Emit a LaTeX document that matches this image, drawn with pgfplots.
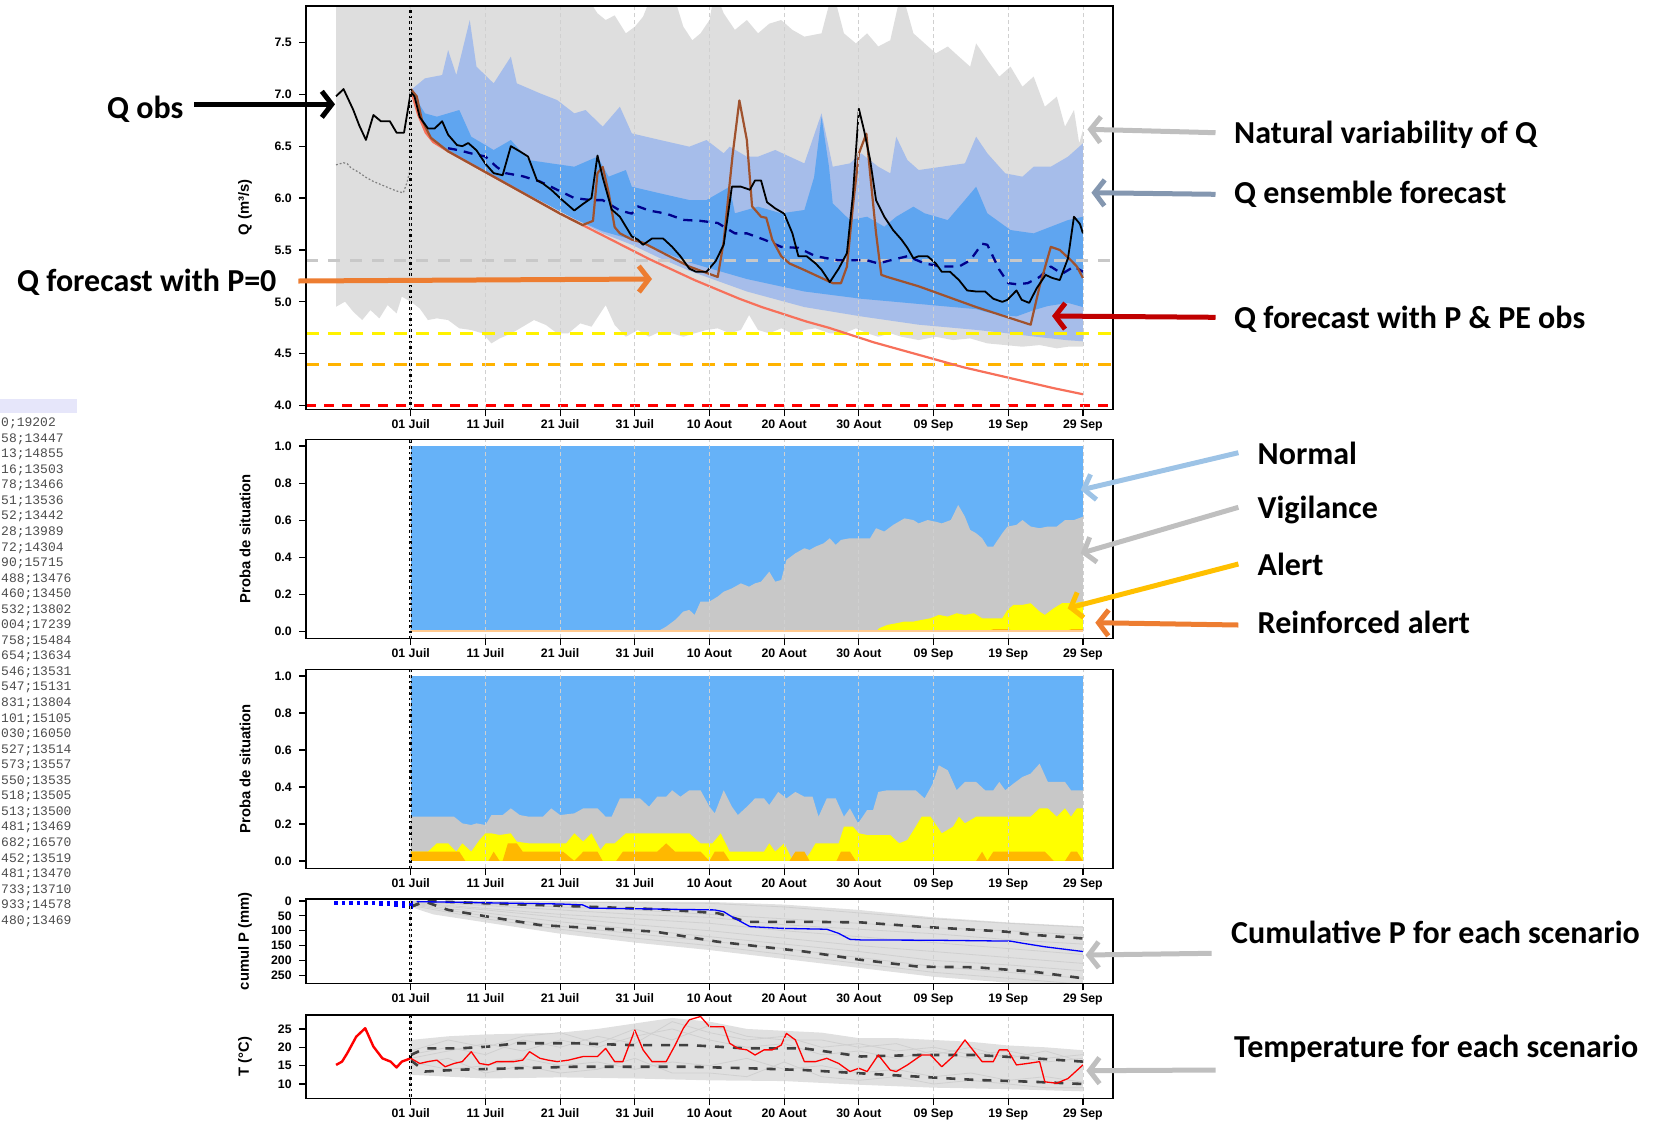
\documentclass[border=0pt]{standalone}
\usepackage{pgfplots}
\pgfplotsset{compat=1.18}
\usepackage{fontspec}
\setmainfont{Liberation Sans}
\newfontfamily\annotfam{Carlito}
\newfontfamily\monofam{Liberation Mono}
\usetikzlibrary{arrows.meta}

\definecolor{natgray}{HTML}{DEDEDE}
\definecolor{lblue}{HTML}{A6BDEA}
\definecolor{mblue}{HTML}{5FA5F0}
\definecolor{pblue}{HTML}{66B2F8}
\definecolor{vgray}{HTML}{C8C8C8}
\definecolor{ayellow}{HTML}{FFFF00}
\definecolor{raorange}{HTML}{FFB800}
\definecolor{peach}{HTML}{FFC98F}
\definecolor{brownline}{HTML}{A0522D}
\definecolor{salmon}{HTML}{F7705A}
\definecolor{qnavy}{HTML}{00008B}
\definecolor{gridgray}{HTML}{D0D0D0}
\definecolor{hlgray}{HTML}{C8C8C8}
\definecolor{hlorange}{HTML}{FFB300}
\definecolor{arrgray}{HTML}{BFBFBF}
\definecolor{arrblue}{HTML}{8497B0}
\definecolor{arrorange}{HTML}{ED7D31}
\definecolor{arrred}{HTML}{C00000}
\definecolor{arrlblue}{HTML}{9DC3E6}
\definecolor{arrgold}{HTML}{FFC000}
\definecolor{lavender}{HTML}{E6E6FA}
\definecolor{monogray}{HTML}{4D4D4D}
\definecolor{ensgray}{HTML}{E0E0E0}
\definecolor{enslines}{HTML}{D0D0D0}
\definecolor{qdash}{HTML}{404040}

\newcommand\tickfont{\bfseries\fontsize{12.3}{14}\selectfont}
\newcommand\labfont{\bfseries\fontsize{14.8}{17}\selectfont}
\newcommand\annotfont{\annotfam\bfseries\fontsize{32}{38}\selectfont}
\newcommand\monofont{\monofam\fontsize{13}{15.5}\selectfont}

\pgfplotsset{
  panel/.style={
    scale only axis, width=806.6pt, anchor=north west,
    xmin=-14, xmax=94,
    xtick={0,10,20,30,40,50,60,70,80,90},
    xticklabels={01 Juil,11 Juil,21 Juil,31 Juil,10 Aout,20 Aout,30 Aout,09 Sep,19 Sep,29 Sep},
    tick pos=left, tick align=outside, major tick length=7pt,
    tick style={black, line width=1.2pt},
    axis line style={black, line width=1.6pt},
    ticklabel style={font=\tickfont, text=black},
    yticklabel style={xshift=-4pt},
    xmajorgrids, grid style={dash pattern=on 4pt off 3pt, color=gridgray, line width=0.8pt},
    axis on top,
    ylabel style={font=\labfont, at={(axis description cs:-0.0757,0.5)}, anchor=center},
    no markers,
    every axis plot/.append style={line join=round},
  },
  dayzero/.style={black, line width=2.6pt, dash pattern=on 2.6pt off 3pt},
}

\begin{document}
\begin{tikzpicture}
\path[use as bounding box] (0pt,0pt) rectangle (1668pt,-1120pt);

% ---------------- left text column ----------------
\fill[lavender] (0pt,-399pt) rectangle (76.6pt,-412.7pt);
\foreach \t [count=\i] in {0;19202,58;13447,13;14855,16;13503,78;13466,51;13536,52;13442,28;13989,72;14304,90;15715,488;13476,460;13450,532;13802,004;17239,758;15484,654;13634,546;13531,547;15131,831;13804,101;15105,030;16050,527;13514,573;13557,550;13535,518;13505,513;13500,481;13469,682;16570,452;13519,481;13470,733;13710,933;14578,480;13469}
  {\node[anchor=base west, inner sep=0pt, font=\monofont, text=monogray] at (1pt,{-426.6pt-15.55pt*(\i-1)}) {\t};}

% ---------------- panel 1 : Q ----------------
\begin{axis}[panel, at={(306.2pt,-5.7pt)}, height=403.6pt,
  ymin=3.965, ymax=7.853,
  ytick={4,4.5,5,5.5,6,6.5,7,7.5},
  yticklabels={4.0,4.5,5.0,5.5,6.0,6.5,7.0,7.5},
  ylabel={Q (m³/s)}]
% natural variability
\addplot[fill=natgray, draw=none] coordinates {
 (-10,8) (23,8) (25,7.78) (26.1,7.715) (27.3,7.76) (28.8,7.587) (30,7.65) (31.1,7.747) (32.5,8) (35,8) (36.5,7.65) (37.7,7.52) (38.8,7.587) (40,7.715) (40.7,8) (41.9,7.78) (43.4,7.62) (45,7.715) (46.5,7.587) (48,7.68) (49.6,7.715) (51.1,7.62) (52.7,7.555) (55,7.587) (56.5,8) (58,7.587) (59.6,7.49) (61.1,7.587) (62.6,7.46) (64.2,7.52) (65.7,8) (67.3,7.587) (68.8,7.49) (70.3,7.394) (71.9,7.46) (73.4,7.362) (74.9,7.266) (75.7,7.49) (77.2,7.33) (78.8,7.17) (80.3,7.266) (81.9,7.073) (83.4,7.17) (84.9,6.88) (86.5,6.977) (87.6,6.688) (88.8,6.848) (89.5,6.527) (90,6.655)
 (90,4.568) (88,4.568) (86.5,4.552) (84.2,4.584) (81.9,4.568) (79.6,4.584) (77.2,4.6) (74.9,4.648) (72.6,4.632) (70.3,4.664) (68,4.632) (65.7,4.664) (64.2,4.697) (62.6,4.664) (61.1,4.697) (59.6,4.745) (58,4.697) (56.1,4.697) (54.2,4.745) (52.7,4.729) (51.5,4.68) (49.6,4.745) (48,4.697) (46.5,4.729) (45.3,4.873) (44.2,4.729) (42.7,4.697) (41.1,4.745) (39.6,4.729) (38,4.697) (36.5,4.664) (35,4.697) (33.4,4.713) (31.9,4.664) (30.4,4.729) (28.8,4.664) (27.3,4.777) (26.1,4.969) (24.2,4.761) (22.7,4.793) (21.1,4.697) (19.6,4.697) (18.1,4.777) (16.5,4.825) (15,4.761) (13.5,4.697) (11.9,4.648) (10.8,4.6) (9.6,4.697) (8.1,4.729) (6.5,4.745) (5,4.825) (3.5,4.841) (2.3,4.825) (1.2,4.937) (0,5.002) (-1.2,5.05) (-1.9,4.889) (-3.1,4.969) (-4.2,4.841) (-5.4,4.921) (-6.5,4.825) (-7.7,4.905) (-8.8,5.002) (-10,4.953)
} -- cycle;
% ensemble outer band
\addplot[fill=lblue, draw=none] coordinates {
 (0,7.04) (1.9,7.153) (4.2,7.185) (5,7.426) (6.1,7.185) (7.9,7.715) (8.8,7.266) (11.1,7.105) (13.4,7.362) (14.2,7.105) (17.3,7.009) (19.6,6.944) (21.9,6.816) (23.4,6.848) (25.7,6.688) (28,6.88) (29.6,6.623) (33.4,6.559) (37.3,6.495) (39.6,6.559) (41.9,6.431) (42.7,6.495) (45,6.399) (46.5,6.399) (48.8,6.463) (52.7,6.334) (55,6.816) (56.5,6.302) (58.8,6.334) (60.3,6.431) (62.6,6.302) (64.2,6.238) (65,6.591) (66.5,6.366) (68,6.27) (71.1,6.302) (74.2,6.334) (75.7,6.591) (77.2,6.431) (79.6,6.238) (81.9,6.206) (83.4,6.302) (85.7,6.302) (88,6.399) (90,6.527)
 (90,4.62) (88,4.63) (84.2,4.66) (79.6,4.70) (75.7,4.73) (68,4.78) (60.3,4.86) (52.7,4.95) (45,5.10) (37.3,5.30) (33.4,5.42) (29.6,5.55) (25.7,5.66) (21.9,5.80) (18,5.95) (14.2,6.09) (10.4,6.23) (6.5,6.39) (2.7,6.56) (1,6.80) (0,7.04)
} -- cycle;
% ensemble inner band
\addplot[fill=mblue, draw=none] coordinates {
 (0,7.04) (1.9,6.816) (3.5,6.784) (6.5,6.848) (8.1,6.591) (11.1,6.463) (13.4,6.559) (15.8,6.366) (18.8,6.334) (21.9,6.302) (25,6.399) (26.5,6.206) (28.8,6.27) (29.6,6.109) (33.4,6.045) (37.3,5.981) (39.6,5.981) (42.7,6.109) (43.4,5.853) (46.5,5.917) (49.6,5.853) (52.7,5.885) (54,6.2) (55,6.784) (56,6.3) (56.5,5.949) (58.8,5.788) (61.1,5.82) (63.4,5.724) (65,5.82) (67.3,5.917) (68.8,5.853) (71.9,5.788) (74.2,5.981) (75.7,6.109) (77.2,5.853) (80.3,5.692) (83.4,5.66) (85.7,5.724) (88,5.788) (90,5.82)
 (90,4.95) (88,4.99) (85.3,4.96) (83.4,4.92) (81.1,4.86) (79.6,4.87) (77.2,4.90) (75.7,4.93) (68,4.98) (60.3,5.03) (52.7,5.10) (45,5.22) (37.3,5.38) (29.6,5.60) (25.7,5.68) (21.9,5.80) (18,5.95) (14.2,6.09) (10.4,6.23) (6.5,6.39) (2.7,6.56) (1,6.80) (0,7.04)
} -- cycle;
% thresholds
\addplot[hlgray, line width=2.8pt, dash pattern=on 12pt off 10pt] coordinates {(-14,5.4) (94,5.4)};
\addplot[yellow, line width=3pt, dash pattern=on 13pt off 9pt] coordinates {(-14,4.7) (94,4.7)};
\addplot[hlorange, line width=3pt, dash pattern=on 13pt off 9pt] coordinates {(-14,4.4) (94,4.4)};
\addplot[red, line width=3.2pt, dash pattern=on 10pt off 8pt] coordinates {(-14,4.005) (94,4.005)};
% simulated before forecast
\addplot[gray, line width=1.2pt, dash pattern=on 1.8pt off 2pt] coordinates {(-10,6.32) (-9,6.34) (-8.5,6.33) (-8,6.29) (-7,6.25) (-6,6.2) (-5,6.16) (-4,6.13) (-3,6.1) (-2,6.07) (-1,6.05) (-0.5,6.15) (0,6.3)};
% Q forecast P=0
\addplot[salmon, line width=2.2pt] coordinates {(0,7.05) (0.5,6.92) (1,6.8) (2,6.63) (3,6.54) (5,6.45) (8,6.33) (11,6.21) (14,6.09) (17,5.97) (20,5.85) (23,5.74) (26,5.63) (29,5.52) (32,5.41) (35,5.31) (38,5.21) (41,5.12) (44,5.03) (47,4.95) (50,4.88) (53,4.81) (56,4.75) (59,4.68) (62,4.61) (65,4.55) (68,4.49) (71,4.43) (74,4.37) (77,4.32) (80,4.27) (83,4.22) (86,4.17) (90,4.11)};
% ensemble median
\addplot[qnavy, line width=2.3pt, dash pattern=on 9pt off 7pt] coordinates {(5,6.48) (6.5,6.46) (8.1,6.43) (10,6.40) (11.5,6.30) (12.7,6.24) (15,6.21) (17.3,6.16) (19.6,6.08) (21.9,6.0) (24.2,5.98) (25.7,5.98) (28,5.88) (29.6,5.85) (30.4,5.92) (31.9,5.88) (34.2,5.85) (36.5,5.79) (38.8,5.78) (41.1,5.76) (42.7,5.69) (43.4,5.66) (45,5.66) (47.3,5.60) (49.6,5.53) (51.9,5.52) (54.2,5.44) (57.3,5.40) (59.6,5.40) (61.1,5.40) (62.6,5.37) (64.2,5.40) (66.5,5.44) (68.8,5.37) (71.1,5.34) (73.4,5.34) (74.9,5.40) (76.5,5.56) (77.2,5.55) (78.8,5.31) (80,5.18) (81.1,5.17) (82.6,5.18) (84.2,5.24) (85.7,5.34) (87.2,5.27) (88.8,5.34) (90,5.29)};
% Q forecast with P & PE obs
\addplot[brownline, line width=2.2pt] coordinates {(0,7.05) (0.8,6.98) (1.5,6.75) (2.7,6.58) (5,6.45) (8,6.33) (11,6.21) (14,6.09) (17,5.97) (20,5.85) (23,5.74) (24.4,5.78) (25,6.24) (25.7,6.30) (26.5,6.05) (27.3,5.72) (28,5.66) (29.6,5.60) (31.1,5.57) (37.3,5.34) (41.1,5.24) (41.9,5.58) (43.1,6.42) (44,6.94) (45,6.56) (45.7,5.92) (46.9,5.82) (47.6,5.81) (48.4,5.60) (49.6,5.44) (50.7,5.37) (52.6,5.31) (56.5,5.18) (57.6,5.18) (58.4,5.34) (59.2,5.92) (60,6.43) (61,6.62) (61.5,6.24) (62.3,5.66) (63,5.26) (63.8,5.24) (68,5.15) (75.7,4.95) (83,4.78) (84.2,5.15) (85.7,5.53) (86.9,5.50) (88.4,5.40) (89.2,5.34) (90,5.23)};
% Q obs
\addplot[black, line width=1.8pt] coordinates {(-10,6.98) (-9,7.05) (-7.7,6.85) (-6.9,6.70) (-6,6.56) (-5,6.80) (-4,6.74) (-2.8,6.74) (-1.9,6.63) (-0.9,6.63) (0,7.02) (0.5,6.98) (1.2,6.78) (2.3,6.67) (3.2,6.67) (4.2,6.74) (5,6.61) (6.2,6.51) (6.9,6.50) (7.7,6.53) (8.8,6.46) (10,6.33) (11.1,6.24) (12.3,6.22) (13.4,6.50) (14.6,6.45) (15.7,6.40) (16.9,6.17) (17.7,6.14) (18.8,6.08) (20.3,5.98) (21.9,5.88) (23,5.94) (24.2,6.0) (25,6.41) (25.7,6.20) (26.9,5.89) (28,5.82) (29.6,5.63) (30.4,5.60) (31.1,5.55) (32.3,5.61) (33.8,5.61) (35,5.53) (36.1,5.44) (37.3,5.32) (38.2,5.29) (39.6,5.29) (40.8,5.39) (41.9,5.55) (43,6.11) (44.2,6.11) (45.4,6.08) (46.1,6.17) (46.9,6.17) (47.7,5.96) (48.8,5.90) (50,5.85) (51.1,5.66) (51.9,5.44) (53,5.44) (54.2,5.37) (55,5.31) (56.1,5.19) (57.3,5.32) (58.4,5.47) (59.2,6.03) (60,6.86) (60.7,6.65) (61.5,6.37) (62.3,5.98) (63.4,5.82) (64.6,5.69) (65.7,5.60) (66.5,5.52) (67.3,5.42) (68,5.44) (69.2,5.44) (70.3,5.37) (71.1,5.29) (72.2,5.29) (73.4,5.21) (74.5,5.11) (75.7,5.10) (76.9,5.10) (78,5.03) (79.2,5.00) (79.9,5.02) (81.1,5.11) (81.8,5.02) (82.8,4.99) (83.8,5.13) (85,5.26) (85.9,5.23) (86.9,5.21) (88,5.42) (88.8,5.82) (89.6,5.75) (90,5.66)};
\addplot[dayzero] coordinates {(0,3.9) (0,7.9)};
\end{axis}

% ---------------- panel 2 : proba (P & PE obs) ----------------
\begin{axis}[panel, at={(306.2pt,-439.3pt)}, height=199pt,
  ymin=-0.036, ymax=1.036,
  ytick={0,0.2,0.4,0.6,0.8,1}, yticklabels={0.0,0.2,0.4,0.6,0.8,1.0},
  ylabel={Proba de situation}]
\addplot[fill=pblue, draw=none] coordinates {(0,0) (0,1) (90,1) (90,0)} -- cycle;
\addplot[fill=vgray, draw=none] coordinates {(0,0) (33,0) (34.2,0.027) (35.4,0.063) (36.5,0.108) (37.3,0.117) (38,0.09) (38.8,0.162) (40,0.162) (41.1,0.189) (41.9,0.215) (43,0.233) (44.2,0.26) (45.3,0.242) (46.1,0.26) (46.9,0.269) (48,0.323) (48.8,0.269) (49.6,0.278) (50.3,0.386) (51.5,0.422) (52.7,0.449) (53.4,0.44) (54.2,0.458) (55.3,0.476) (56.1,0.503) (56.9,0.467) (57.6,0.494) (58.8,0.503) (60.3,0.503) (61.5,0.503) (62.3,0.557) (63.4,0.539) (64.6,0.575) (66.1,0.61) (67.3,0.601) (68,0.583) (69.2,0.601) (70.3,0.592) (71.1,0.583) (72.3,0.601) (73.3,0.682) (74.2,0.619) (74.9,0.548) (75.7,0.53) (76.5,0.503) (77.2,0.458) (78,0.458) (79.2,0.53) (79.9,0.566) (81.1,0.575) (81.9,0.601) (83,0.566) (84.2,0.557) (85.3,0.566) (86.5,0.566) (87.6,0.601) (88.8,0.601) (90,0.619) (90,0)} -- cycle;
\addplot[fill=ayellow, draw=none] coordinates {(62.3,0) (62.7,0.018) (63.8,0.036) (65,0.045) (66.1,0.054) (67.3,0.054) (68.4,0.063) (69.6,0.072) (70.7,0.09) (71.9,0.081) (73.1,0.099) (74.2,0.09) (75.4,0.099) (76.5,0.072) (78,0.072) (79.2,0.072) (79.9,0.117) (80.7,0.144) (81.9,0.144) (83,0.153) (84.2,0.108) (84.9,0.09) (86.1,0.126) (87.2,0.153) (88.8,0.153) (90,0.162) (90,0)} -- cycle;
\addplot[fill=raorange, draw=none] coordinates {(77,0) (78,0.013) (80,0.013) (81,0)} -- cycle;
\addplot[fill=raorange, draw=none] coordinates {(87.5,0) (88.5,0.014) (90,0.014) (90,0)} -- cycle;
\addplot[peach, line width=1.5pt] coordinates {(0,0.003) (90,0.003)};
\addplot[dayzero] coordinates {(0,-0.1) (0,1.1)};
\end{axis}

% ---------------- panel 3 : proba (P=0 scenarios) ----------------
\begin{axis}[panel, at={(306.2pt,-669.3pt)}, height=199pt,
  ymin=-0.04, ymax=1.036,
  ytick={0,0.2,0.4,0.6,0.8,1}, yticklabels={0.0,0.2,0.4,0.6,0.8,1.0},
  ylabel={Proba de situation}]
\addplot[fill=pblue, draw=none] coordinates {(0,0) (0,1) (90,1) (90,0)} -- cycle;
\addplot[fill=vgray, draw=none] coordinates {(0,0) (0,0.239) (5.8,0.239) (6.9,0.203) (8.1,0.194) (8.8,0.203) (10,0.194) (10.8,0.248) (12.3,0.248) (13.4,0.284) (14.6,0.248) (15.8,0.239) (17.7,0.239) (18.8,0.284) (20,0.248) (21.9,0.257) (23.1,0.284) (25,0.284) (26.1,0.239) (26.9,0.239) (28,0.338) (29.6,0.338) (30.7,0.338) (31.9,0.293) (33,0.347) (34.2,0.347) (35,0.382) (36.1,0.347) (37.3,0.382) (38.8,0.382) (40,0.293) (40.7,0.257) (41.9,0.382) (43,0.293) (43.8,0.248) (45,0.293) (46.1,0.338) (47.3,0.338) (48,0.302) (49.2,0.373) (50.3,0.338) (51.5,0.373) (52.7,0.347) (53.8,0.347) (54.6,0.239) (55.7,0.338) (56.9,0.338) (58,0.239) (58.8,0.284) (59.9,0.203) (61.1,0.275) (61.9,0.275) (62.6,0.373) (63.8,0.382) (66.1,0.382) (67.6,0.382) (68.8,0.338) (69.9,0.418) (70.7,0.517) (71.9,0.49) (73.1,0.382) (74.2,0.427) (75.7,0.427) (76.9,0.382) (78,0.382) (78.8,0.427) (79.6,0.382) (80.7,0.418) (81.9,0.454) (83,0.472) (84.2,0.526) (85.3,0.427) (86.5,0.427) (87.6,0.427) (88.4,0.382) (89.2,0.382) (90,0.382) (90,0)} -- cycle;
\addplot[fill=ayellow, draw=none] coordinates {(0,0) (0,0.05) (2.3,0.05) (3.5,0.095) (5,0.095) (6.1,0.05) (6.9,0.095) (8.1,0.05) (9.2,0.113) (10,0.149) (10.8,0.149) (11.9,0.14) (13.4,0.149) (14.2,0.104) (15.8,0.095) (19.6,0.095) (20.8,0.095) (21.9,0.149) (23.1,0.104) (24.2,0.149) (25.4,0.059) (26.1,0.095) (27.3,0.095) (28.8,0.149) (37.3,0.149) (38.8,0.095) (40.4,0.095) (41.5,0.149) (42.7,0.05) (47.3,0.05) (48,0.095) (48.8,0.05) (50,0.095) (51.1,0.005) (52.7,0.005) (53.4,0.04) (54.2,0.095) (57.3,0.095) (58,0.185) (59.2,0.185) (60,0.149) (61.1,0.14) (64.2,0.14) (65.4,0.095) (66.5,0.113) (67.6,0.185) (68.4,0.239) (69.6,0.239) (71.1,0.149) (72.6,0.185) (73.4,0.239) (74.2,0.203) (75.7,0.239) (83,0.239) (84.2,0.284) (85.3,0.284) (86.5,0.239) (87.6,0.284) (88.4,0.239) (89.2,0.284) (90,0.284) (90,0)} -- cycle;
\addplot[fill=raorange, draw=none] coordinates {(0,0) (0,0.05) (6.5,0.05) (7.3,0) (10.4,0) (11.1,0.05) (11.9,0) (12.3,0) (13,0.095) (14.2,0.095) (15,0.05) (20.4,0.05) (21.9,0) (23.1,0.05) (25,0.05) (25.7,0) (27.5,0) (28.4,0.05) (33,0.05) (34.2,0.095) (35.4,0.05) (38.8,0.05) (40,0) (40.7,0.05) (41.9,0.05) (42.7,0) (50.7,0) (51.5,0.05) (52.7,0.05) (53.4,0) (57,0) (57.6,0.05) (58.8,0.05) (59.6,0) (75.7,0) (76.5,0.05) (77.2,0) (78,0.05) (84.9,0.05) (86.1,0) (87.6,0) (88.4,0.05) (89.2,0.05) (90,0)} -- cycle;
\addplot[dayzero] coordinates {(0,-0.1) (0,1.1)};
\end{axis}

% ---------------- panel 4 : cumulative P ----------------
\begin{axis}[panel, at={(306.2pt,-899pt)}, height=84.3pt,
  y dir=reverse, ymin=-6.7, ymax=277,
  ytick={0,50,100,150,200,250}, yticklabels={0,50,100,150,200,250},
  ylabel={cumul P (mm)}]
\addplot[fill=ensgray, draw=none] coordinates {(0,0) (40,3) (50,12) (60,30) (70,55) (80,72) (90,85) (90,290) (80,275) (70,255) (60,225) (50,195) (40,165) (30,140) (20,110) (10,72) (3,45) (0,20)} -- cycle;
\addplot[enslines, line width=0.8pt] coordinates {(0,0) (10,2) (20,4) (30,6) (40,8) (50,20) (60,40) (70,60) (80,75) (90,88)};
\addplot[enslines, line width=0.8pt] coordinates {(0,5) (10,25) (20,45) (30,60) (40,75) (50,100) (60,120) (70,140) (80,160) (90,180)};
\addplot[enslines, line width=0.8pt] coordinates {(0,10) (10,40) (20,70) (30,95) (40,120) (50,145) (60,170) (70,200) (80,215) (90,235)};
\addplot[enslines, line width=0.8pt] coordinates {(0,15) (10,60) (20,95) (30,125) (40,150) (50,180) (60,210) (70,240) (80,260) (90,280)};
\addplot[enslines, line width=0.8pt] coordinates {(0,3) (10,15) (20,30) (30,45) (40,55) (50,80) (60,95) (70,110) (80,130) (90,145)};
\addplot[enslines, line width=0.8pt] coordinates {(0,8) (10,30) (20,55) (30,80) (40,100) (50,125) (60,150) (70,170) (80,190) (90,210)};
\addplot[enslines, line width=0.8pt] coordinates {(0,2) (10,10) (20,20) (30,30) (40,45) (50,60) (60,75) (70,90) (80,100) (90,115)};
\addplot[enslines, line width=0.8pt] coordinates {(0,12) (10,50) (20,85) (30,110) (40,135) (50,160) (60,190) (70,220) (80,240) (90,260)};
\addplot[qdash, line width=2.6pt, dash pattern=on 9pt off 9pt] coordinates {(0,20) (1.9,0) (10.4,8) (23.5,19) (33.5,28) (41.1,41) (45,70) (52.7,70) (60.3,72) (68,86) (79.6,103) (83.4,114) (90,126)};
\addplot[qdash, line width=2.6pt, dash pattern=on 9pt off 9pt] coordinates {(0,19) (1.9,2) (5,30) (10.4,53) (17.3,81) (23.5,90) (32.7,103) (41.1,137) (48.8,159) (52.7,170) (60.3,198) (68,221) (75.7,223) (83.4,238) (90,260)};
\addplot[blue, line width=1.3pt] coordinates {(0.8,2) (10,6) (20,10) (23,13) (24,24) (30,26) (35,28) (40.7,30) (41.9,36) (43,53) (44.6,75) (45.4,86) (49.6,92) (55.7,95) (57.3,109) (58.8,129) (60.3,131) (70,132) (80.3,135) (81.9,142) (84.9,154) (90,170)};
\addplot[ycomb, blue, line width=3.5pt] coordinates {(-10,13.5) (-9,13.5) (-8,13.5) (-7,13.5) (-6,13.5) (-5,14.6) (-4,15.7) (-3,17.9) (-2,20.2) (-1,22.4) (0,28)};
\addplot[dayzero] coordinates {(0,-20) (0,300)};
\end{axis}

% ---------------- panel 5 : temperature ----------------
\begin{axis}[panel, at={(306.2pt,-1015pt)}, height=83.3pt,
  ymin=6.1, ymax=28.8,
  ytick={10,15,20,25}, yticklabels={10,15,20,25},
  ylabel={T (°C)}]
\addplot[fill=ensgray, draw=none] coordinates {(0,22) (5,23) (10,23.5) (20,24) (25,25) (30,26.5) (35,28) (40,27) (45,25) (50,24.5) (55,24) (60,22.5) (65,22.5) (70,22) (75,21.5) (80,20.5) (85,20) (90,19.2) (90,8) (80,8.6) (70,9) (60,9.8) (50,10.8) (40,11) (30,11.5) (20,11.8) (10,11.5) (0,12.5)} -- cycle;
\addplot[enslines, line width=0.8pt] coordinates {(0,17) (5,19) (10,21) (15,19) (20,22) (25,20) (30,23) (35,25) (40,22) (45,20) (50,21) (55,18) (60,19) (65,17) (70,19) (75,17) (80,18) (85,16) (90,17)};
\addplot[enslines, line width=0.8pt] coordinates {(0,16) (5,14) (10,15) (15,17) (20,15) (25,16) (30,14) (35,16) (40,15) (45,17) (50,14) (55,15) (60,13) (65,14) (70,12) (75,13) (80,11) (85,12) (90,10.5)};
\addplot[enslines, line width=0.8pt] coordinates {(0,18) (5,20) (10,18) (15,22) (20,20) (25,23) (30,21) (35,27) (40,24) (45,22) (50,23) (55,20) (60,21) (65,19) (70,20) (75,18) (80,19) (85,17) (90,18)};
\addplot[enslines, line width=0.8pt] coordinates {(0,15) (5,17) (10,13) (15,15) (20,13) (25,14) (30,17) (35,13) (40,13) (45,12) (50,16) (55,12) (60,11) (65,12) (70,10) (75,11) (80,10) (85,9) (90,9)};
\addplot[enslines, line width=0.8pt] coordinates {(0,19) (5,22) (10,20) (15,23) (20,24) (25,21) (30,25) (35,22) (40,26) (45,23) (50,22) (55,22) (60,20) (65,21) (70,18) (75,20) (80,17) (85,19) (90,16)};
\addplot[qdash, line width=2.6pt, dash pattern=on 9pt off 9pt] coordinates {(0,17.9) (1.9,19.7) (6.5,19.7) (10.4,20.2) (14.2,21.1) (21.9,21.1) (29.6,20.6) (37.3,20.6) (45,19.7) (52.7,19.7) (60.3,17.5) (68,17.9) (75.7,17.9) (83.4,17.0) (90,16.1)};
\addplot[qdash, line width=2.6pt, dash pattern=on 9pt off 9pt] coordinates {(0,16.5) (1.9,13.4) (6.5,13.9) (14.2,14.3) (21.9,14.7) (29.6,14.7) (37.3,14.7) (45,14.3) (52.7,13.8) (60.3,12.9) (68,12.0) (75.7,11.1) (83.4,10.6) (90,10.0)};
\addplot[red, line width=2.4pt] coordinates {(-10,15.2) (-9.2,16.1) (-8.5,18.4) (-7.3,22.9) (-6.1,25.2) (-5,20.2) (-3.8,17.0) (-2.7,16.1) (-1.9,14.5) (-1.2,16.1) (0,17.0)};
\addplot[red, line width=1.3pt] coordinates {(0,17) (1.2,15.6) (2.3,16.1) (3.5,16.5) (4.6,14.7) (5.8,15.6) (6.9,16.1) (8.1,18.8) (9.2,15.6) (10.4,15.2) (11.5,16.1) (12.7,16.1) (13.8,16.1) (15,16.5) (15.9,18.8) (17.3,17.0) (18.4,16.5) (19.6,16.1) (21.1,16.5) (23.1,17.5) (25,17.5) (26.1,19.7) (27.3,16.1) (28.4,16.1) (30,24.7) (31.1,19.3) (32.3,16.1) (34.2,16.1) (35.4,20.6) (36.5,25.2) (37.3,27.5) (38.8,28.4) (40,25.6) (41.9,25.6) (42.7,21.1) (43.8,19.7) (45,19.3) (46.1,17.9) (47.3,19.3) (48.4,19.3) (49.6,20.6) (50.3,23.8) (51.5,22.0) (52.7,16.1) (54.2,16.1) (55.7,17.0) (57.3,15.6) (58.8,13.4) (60,14.3) (61.1,13.4) (62.6,17.9) (64.2,13.8) (65,13.4) (66.5,15.2) (68.4,17.9) (69.6,17.9) (71.1,14.7) (72.6,17.5) (74.2,22.0) (74.9,20.2) (76.5,16.1) (78,16.1) (78.8,19.3) (79.9,19.3) (81.1,15.2) (82.6,15.6) (84.2,16.1) (84.9,10.6) (86.5,10.2) (88,11.5) (90,15.2)};
\addplot[dayzero] coordinates {(0,5) (0,30)};
\end{axis}

% ---------------- annotations ----------------
\tikzset{annarrow/.style={line width=5pt, -{Straight Barb[length=10pt,width=26pt]}}}
\draw[annarrow, black] (194.3pt,-104.3pt) -- (335pt,-104.3pt);
\draw[annarrow, arrorange] (298.3pt,-281pt) -- (652pt,-279pt);
\draw[annarrow, arrgray] (1215.5pt,-132.7pt) -- (1087.4pt,-129.3pt);
\draw[annarrow, arrblue] (1215.5pt,-194.3pt) -- (1091.4pt,-192.7pt);
\draw[annarrow, arrred] (1215.5pt,-317.3pt) -- (1052pt,-316pt);
\draw[annarrow, arrlblue] (1238.4pt,-452.7pt) -- (1080.7pt,-490pt);
\draw[annarrow, arrgray] (1238.4pt,-507.3pt) -- (1080.7pt,-553.3pt);
\draw[annarrow, arrgold] (1238.4pt,-564pt) -- (1067.7pt,-608.3pt);
\draw[annarrow, arrorange] (1238.4pt,-625pt) -- (1095.3pt,-622.7pt);
\draw[annarrow, arrgray] (1211.6pt,-953.3pt) -- (1085.5pt,-955pt);
\draw[annarrow, arrgray] (1215.5pt,-1070pt) -- (1086.3pt,-1070.7pt);

\begin{scope}[every node/.style={anchor=base west, inner sep=0pt, font=\annotfont}]
\node at (107pt,-118pt) {Q obs};
\node at (17pt,-291pt) {Q forecast with P=0};
\node at (1234pt,-143.5pt) {Natural variability of Q};
\node at (1234pt,-203pt) {Q ensemble forecast};
\node at (1234pt,-328pt) {Q forecast with P \& PE obs};
\node at (1257.5pt,-464pt) {Normal};
\node at (1257.5pt,-518pt) {Vigilance};
\node at (1257.5pt,-575pt) {Alert};
\node at (1257.5pt,-633pt) {Reinforced alert};
\node at (1231pt,-943pt) {Cumulative P for each scenario};
\node at (1234pt,-1057pt) {Temperature for each scenario};
\end{scope}
\end{tikzpicture}
\end{document}
